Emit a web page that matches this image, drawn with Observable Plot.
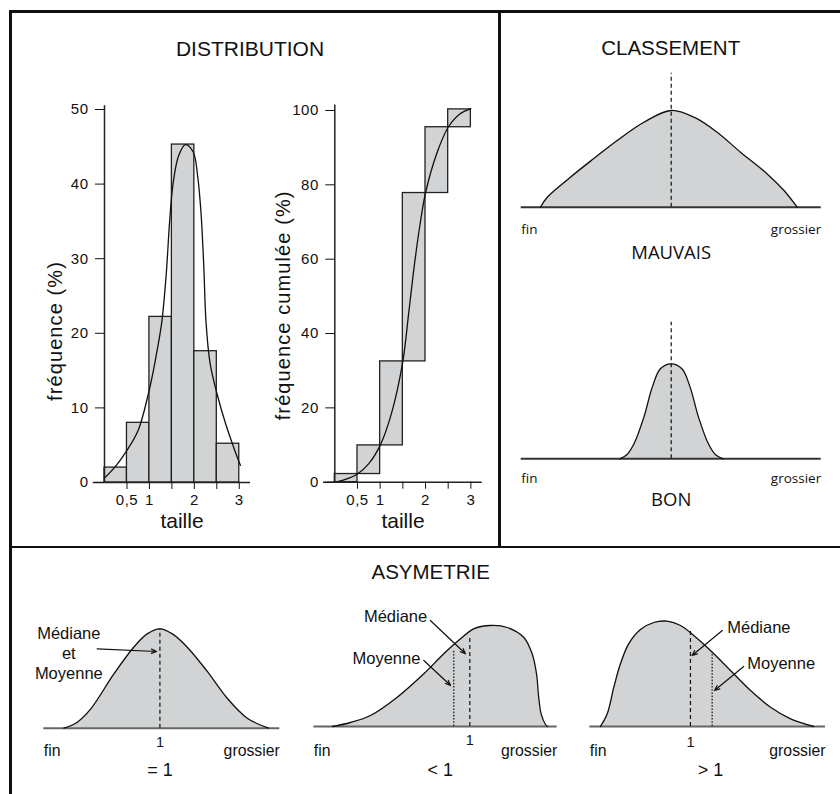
<!DOCTYPE html>
<html>
<head>
<meta charset="utf-8">
<script src="https://cdn.jsdelivr.net/npm/d3@7"></script>
<script src="https://cdn.jsdelivr.net/npm/@observablehq/plot@0.6"></script>
<style>
  body { margin: 0; background: #fff; }
  #page { position: relative; width: 840px; height: 794px; overflow: hidden; background: #fff;
          font-family: "Liberation Sans", Arial, sans-serif; color: #111; }
  .titre { position: absolute; font-size: 20.5px; line-height: 1; white-space: nowrap;
           transform: translate(-50%, -50%); }
  .trait { position: absolute; background: #111; z-index: 10; }
</style>
</head>
<body>
<div id="page"></div>
<script>
// ---------------- DATA ----------------
// Distribution (histogram, bins indexed 0..5 along the "taille" axis)
const classes = [0, 1, 2, 3, 4, 5];
const tailleTicks = [1, 2, 3, 4, 5, 6];
const tailleLabels = ["0,5", "1", "", "2", "", "3"];
const frequence = [2, 8, 22.2, 45.3, 17.6, 5.2];
const frequenceCumulee = [2.2, 9.9, 32.5, 77.8, 95.5, 100.3];
const freqTicks = [0, 10, 20, 30, 40, 50];
const cumTicks = [0, 20, 40, 60, 80, 100];
const courbeFreqX = [0, 0.5, 1, 1.5, 2, 2.3, 2.55, 2.75, 2.9, 3.05, 3.3, 3.6, 3.95, 4.15, 4.3, 4.42, 4.52, 4.7, 5, 5.4, 5.8, 6.05];
const courbeFreqY = [0.6, 2.2, 4.3, 7, 12.5, 17, 21.5, 28, 35, 40, 43.8, 45.3, 44.3, 41, 36, 29, 21.5, 16, 12, 7.8, 4.3, 2.3];
const courbeCumX = [0, 0.5, 1, 1.5, 2, 2.5, 3, 3.25, 3.5, 3.75, 4, 4.5, 5, 5.5, 6];
const courbeCumY = [0, 0.8, 2.2, 5, 9.9, 18.5, 32.5, 45, 58, 69, 77.8, 88.5, 95.5, 99, 100.5];

// Classement (x: fin -> grossier, 0..100 ; y: hauteur)
const mauvaisX = [6.4, 8.7, 16.4, 24.1, 32, 40.9, 50, 57.6, 65.3, 73.1, 82, 87.6, 92];
const mauvaisY = [0, 10, 30, 48.4, 66.7, 85, 96.7, 90, 75, 55, 33.3, 16.7, 0];
const mauvaisRef = { x: 50, top: 134 };
const bonX = [32.9, 35.2, 37.6, 40.9, 43.7, 46.4, 50, 53.6, 56.3, 59.1, 62.4, 64.8, 67.3];
const bonY = [0, 4, 15, 41.7, 71.7, 90, 95, 90, 71.7, 41.7, 15, 4, 0];
const bonRef = { x: 50, top: 136.6 };

// Asymétrie
const symX = [8.5, 14.2, 19.8, 29.7, 38.1, 43.8, 49.2, 54.5, 60.8, 69.2, 77.7, 86.2, 95.3];
const symY = [0, 6, 19, 54.3, 81, 94.3, 99.4, 94.3, 81, 57, 30, 10, 0];
const symMediane = { x: 49.2, top: 99.4 };
const symNote = { x: 10.6, y: 76, text: "Médiane\net\nMoyenne" };
const symFleche = { x1: 22.6, y1: 79.4, x2: 47.8, y2: 76.7 };

const negX = [7.6, 15.1, 23.3, 34.3, 45.2, 53.4, 60.3, 65.7, 72.6, 79.5, 86.3, 89.7, 91.5, 92.4, 93.4, 95.2, 96];
const negY = [0, 4, 11, 29.3, 52.7, 72.7, 87.7, 97.7, 101, 99, 89, 72.7, 52.7, 29.3, 12.7, 2, 0];
const negMoyenne = { x: 57.5, top: 76 };
const negMediane = { x: 64.1, top: 89.3 };
const negNotes = [ { x: 46.6, y: 109.3, text: "Médiane" }, { x: 43.8, y: 67.7, text: "Moyenne" } ];
const negFleches = [ { x1: 47.9, y1: 106, x2: 62.3, y2: 72.7 }, { x1: 45.2, y1: 66, x2: 56.2, y2: 41 } ];

const posX = [4.5, 7.4, 10.2, 13, 16.5, 21.5, 27.2, 32.8, 38.5, 44.1, 51.2, 59.7, 68.2, 76.7, 85.2, 95];
const posY = [0, 12.7, 39.3, 62.7, 82.7, 97, 104, 105.3, 101, 91, 76, 56, 36, 19.3, 7.7, 0];
const posMediane = { x: 42.7, top: 96 };
const posMoyenne = { x: 51.9, top: 74.3 };
const posNotes = [ { x: 58.3, y: 98.7, text: "Médiane" }, { x: 66.8, y: 62.7, text: "Moyenne" } ];
const posFleches = [ { x1: 56.2, y1: 96, x2: 43.4, y2: 71 }, { x1: 65.3, y1: 60, x2: 52.9, y2: 36 } ];

const indices = ["= 1", "< 1", "> 1"];
const indicePos = [49.2, 52, 51.2];

// ---------------- RENDER ----------------
const SANS = "'Liberation Sans', Arial, Helvetica, sans-serif";
const MYRIAD = "'Open Sans', 'Noto Sans', sans-serif";
const GRIS = "#d1d3d4";
const page = document.getElementById("page");

function place(node, left, top) {
  node.style.position = "absolute";
  node.style.left = left + "px";
  node.style.top = top + "px";
  page.appendChild(node);
  return node;
}
function titre(text, cx, cy, size) {
  const d = document.createElement("div");
  d.className = "titre";
  d.textContent = text;
  d.style.left = cx + "px";
  d.style.top = cy + "px";
  d.style.fontSize = size + "px";
  page.appendChild(d);
}
function spacing(svg, all, special, labelText) {
  d3.select(svg).selectAll("text").style("letter-spacing", all);
  d3.select(svg).selectAll("text").filter(function () { return this.textContent === labelText; })
    .style("letter-spacing", special);
  d3.select(svg).selectAll("text").filter(function () { return this.textContent === "taille"; })
    .style("letter-spacing", "0px");
}
const baseStyle = { fontFamily: SANS, fontSize: "15px", color: "#111", background: "transparent", overflow: "visible" };

// Histogram
const histData = classes.map((c, i) => ({ c, f: frequence[i] }));
const courbeFreq = courbeFreqX.map((x, i) => ({ x, y: courbeFreqY[i] }));
const hist = Plot.plot({
  width: 220, height: 450, marginLeft: 64, marginRight: 10, marginTop: 19, marginBottom: 58,
  x: { domain: [0, 6.5] }, y: { domain: [0, 50] },
  style: baseStyle,
  marks: [
    Plot.rect(histData, { x1: "c", x2: d => d.c + 1, y1: 0, y2: "f", fill: GRIS, stroke: "#222", strokeWidth: 1.3 }),
    Plot.line(courbeFreq, { x: "x", y: "y", curve: "catmull-rom", stroke: "#111", strokeWidth: 1.3 }),
    Plot.ruleY([0], { x1: -0.5, x2: 6.5, stroke: "#222", strokeWidth: 1.5 }),
    Plot.ruleX([0], { y1: 0, y2: 50.5, stroke: "#222", strokeWidth: 1.5 }),
    Plot.axisY({ ticks: freqTicks, tickSize: 9, tickPadding: 7, label: null }),
    Plot.axisX({ ticks: tailleTicks, tickFormat: d => tailleLabels[tailleTicks.indexOf(d)], tickSize: 7, tickPadding: 5, label: null }),
    Plot.text(["fréquence (%)"], { frameAnchor: "left", rotate: -90, dx: -49, dy: 35, fontSize: 20, textAnchor: "middle", lineAnchor: "middle" }),
    Plot.text(["taille"], { frameAnchor: "bottom", dx: 4.5, dy: 38.5, fontSize: 21, textAnchor: "middle", lineAnchor: "middle" })
  ]
});
spacing(hist, "0.5px", "1.1px", "fréquence (%)");
place(hist, 40, 90);

// Cumulative
const cumData = classes.map((c, i) => ({ c, bas: i ? frequenceCumulee[i - 1] : 0, haut: frequenceCumulee[i] }));
const courbeCum = courbeCumX.map((x, i) => ({ x, y: courbeCumY[i] }));
const cum = Plot.plot({
  width: 240, height: 450, marginLeft: 74.3, marginRight: 18.3, marginTop: 20, marginBottom: 58.3,
  x: { domain: [0, 6.5] }, y: { domain: [0, 100] },
  style: baseStyle,
  marks: [
    Plot.rect(cumData, { x1: "c", x2: d => d.c + 1, y1: "bas", y2: "haut", fill: GRIS, stroke: "#222", strokeWidth: 1.3 }),
    Plot.line(courbeCum, { x: "x", y: "y", curve: "catmull-rom", stroke: "#111", strokeWidth: 1.3 }),
    Plot.ruleY([0], { x1: -0.5, x2: 6.5, stroke: "#222", strokeWidth: 1.5 }),
    Plot.ruleX([0], { y1: 0, y2: 101.5, stroke: "#222", strokeWidth: 1.5 }),
    Plot.axisY({ ticks: cumTicks, tickSize: 9, tickPadding: 7, label: null }),
    Plot.axisX({ ticks: tailleTicks, tickFormat: d => tailleLabels[tailleTicks.indexOf(d)], tickSize: 7, tickPadding: 5, label: null }),
    Plot.text(["fréquence cumulée (%)"], { frameAnchor: "left", rotate: -90, dx: -51, dy: 9, fontSize: 20, textAnchor: "middle", lineAnchor: "middle" }),
    Plot.text(["taille"], { frameAnchor: "bottom", dx: -5.5, dy: 38.8, fontSize: 21, textAnchor: "middle", lineAnchor: "middle" })
  ]
});
spacing(cum, "0.5px", "1.1px", "fréquence cumulée (%)");
place(cum, 260, 90);

// Generic curve panel
function courbe(opts) {
  const data = opts.xs.map((x, i) => ({ x, y: opts.ys[i] }));
  const marks = [
    Plot.areaY(data, { x: "x", y: "y", curve: "catmull-rom", fill: GRIS }),
    Plot.ruleY([0], { stroke: opts.baseColor, strokeWidth: 2 }),
    Plot.line(data, { x: "x", y: "y", curve: "catmull-rom", stroke: "#111", strokeWidth: 1.3 })
  ];
  if (opts.dashed) marks.push(Plot.ruleX([opts.dashed], { x: "x", y1: 0, y2: "top", stroke: "#111", strokeWidth: 1.2, strokeDasharray: "4,3" }));
  if (opts.dotted) marks.push(Plot.ruleX([opts.dotted], { x: "x", y1: 0, y2: "top", stroke: "#111", strokeWidth: 1.2, strokeDasharray: "1.6,1.6" }));
  (opts.extra || []).forEach(m => marks.push(m));
  return Plot.plot({
    width: opts.width, height: opts.height,
    marginLeft: opts.ml, marginRight: opts.mr, marginTop: opts.mt, marginBottom: opts.mb,
    x: { domain: [0, 100], axis: null }, y: { domain: [0, opts.ymax], axis: null },
    style: { ...baseStyle, fontFamily: opts.font },
    marks
  });
}

// Classement
const finGros = (dy, size, font) => [
  Plot.text(["fin"], { x: 0, y: 0, dy, textAnchor: "start", fontSize: size, fontFamily: font }),
  Plot.text(["grossier"], { x: 100, y: 0, dy, textAnchor: "end", fontSize: size, fontFamily: font })
];
const cTop = courbe({
  xs: mauvaisX, ys: mauvaisY, dashed: mauvaisRef, baseColor: "#333", font: MYRIAD,
  width: 340, height: 240, ml: 20.7, mr: 19.3, mt: 46.7, mb: 53.3, ymax: 140,
  extra: [...finGros(22.3, 13.5, MYRIAD),
    Plot.text(["MAUVAIS"], { x: 50, y: 0, dy: 46, fontSize: 18.5, textAnchor: "middle" })]
});
place(cTop, 500, 20);
const cBot = courbe({
  xs: bonX, ys: bonY, dashed: bonRef, baseColor: "#333", font: MYRIAD,
  width: 340, height: 230, ml: 20.7, mr: 19.3, mt: 28.3, mb: 61.7, ymax: 140,
  extra: [...finGros(20, 13.5, MYRIAD),
    Plot.text(["BON"], { x: 50, y: 0, dy: 41.7, fontSize: 18.5, textAnchor: "middle" })]
});
place(cBot, 500, 290);

// Asymétrie
const fleche = arr => Plot.arrow(arr, { x1: "x1", y1: "y1", x2: "x2", y2: "y2", stroke: "#111", strokeWidth: 1.2, headLength: 7, headAngle: 45 });
const a1 = courbe({
  xs: symX, ys: symY, dashed: symMediane, baseColor: "#666", font: SANS,
  width: 285, height: 200, ml: 31.3, mr: 17.7, mt: 17.7, mb: 62.3, ymax: 120,
  extra: [...finGros(23, 15.8, SANS),
    Plot.text(["1"], { x: symMediane.x, y: 0, dy: 14, fontSize: 14.5, textAnchor: "middle" }),
    Plot.text([indices[0]], { x: indicePos[0], y: 0, dy: 41.6, fontSize: 18, textAnchor: "middle" }),
    Plot.text([symNote], { x: "x", y: "y", text: "text", fontSize: 16.5, lineHeight: 1.22, textAnchor: "middle", lineAnchor: "middle" }),
    fleche([symFleche])]
});
place(a1, 12, 590);
const a2 = courbe({
  xs: negX, ys: negY, dashed: negMediane, dotted: negMoyenne, baseColor: "#666", font: SANS,
  width: 280, height: 200, ml: 16.3, mr: 20.3, mt: 16, mb: 64, ymax: 120,
  extra: [...finGros(24, 15.8, SANS),
    Plot.text(["1"], { x: negMediane.x, y: 0, dy: 14, fontSize: 14.5, textAnchor: "middle" }),
    Plot.text([indices[1]], { x: indicePos[1], y: 0, dy: 44, fontSize: 18, textAnchor: "middle" }),
    Plot.text(negNotes, { x: "x", y: "y", text: "text", fontSize: 16.5, textAnchor: "end" }),
    fleche(negFleches)]
});
place(a2, 297, 590);
const a3 = courbe({
  xs: posX, ys: posY, dashed: posMediane, dotted: posMoyenne, baseColor: "#666", font: SANS,
  width: 263, height: 200, ml: 12.3, mr: 15, mt: 16, mb: 64, ymax: 120,
  extra: [...finGros(24.7, 15.8, SANS),
    Plot.text(["1"], { x: posMediane.x, y: 0, dy: 15.7, fontSize: 14.5, textAnchor: "middle" }),
    Plot.text([indices[2]], { x: indicePos[2], y: 0, dy: 44, fontSize: 18, textAnchor: "middle" }),
    Plot.text(posNotes, { x: "x", y: "y", text: "text", fontSize: 16.5, textAnchor: "start" }),
    fleche(posFleches)]
});
place(a3, 577, 590);

// Titles
titre("DISTRIBUTION", 250, 48, 21);
titre("CLASSEMENT", 670.7, 48, 20.5);
titre("ASYMETRIE", 430.7, 571.7, 20.5);

// Frame lines
[[9, 10, 831, 2.6], [9, 10, 2.6, 784], [498.2, 10, 2.6, 537.5], [9, 545.5, 831, 2.4]].forEach(([l, t, w, h]) => {
  const d = document.createElement("div");
  d.className = "trait";
  Object.assign(d.style, { left: l + "px", top: t + "px", width: w + "px", height: h + "px" });
  page.appendChild(d);
});
</script>
</body>
</html>
